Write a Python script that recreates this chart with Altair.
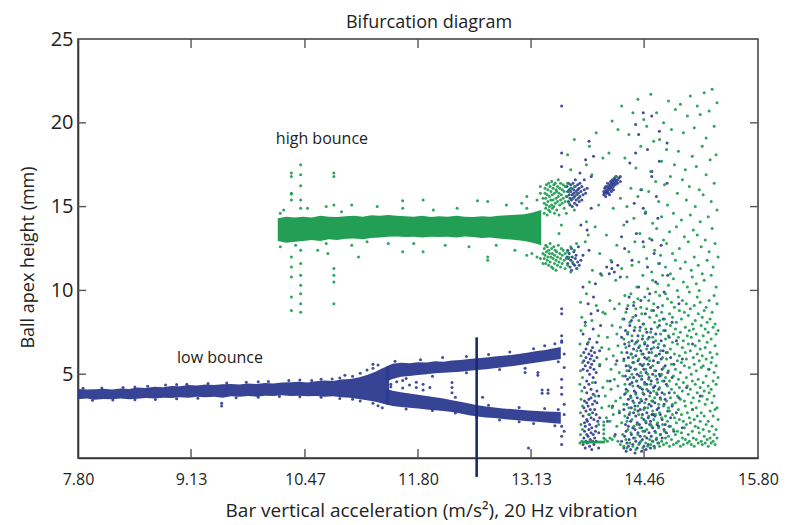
import altair as alt
import pandas as pd

BLUE = "#2c3a8f"
GREEN = "#179a4c"
LINE = "#1b2878"
FONT = "Open Sans"

# ---------------- dense bands (lower / upper edge) ----------------
low_x = [7.80, 7.90, 8.00, 8.10, 8.20, 8.30, 8.40, 8.50, 8.60, 8.70, 8.80, 8.90, 9.00, 9.10, 9.20,
         9.30, 9.40, 9.50, 9.60, 9.70, 9.80, 9.90, 10.00, 10.10, 10.20, 10.30, 10.40, 10.50, 10.60,
         10.70, 10.80, 10.90, 11.00, 11.10, 11.20, 11.30, 11.38, 11.46]
low_lo = [3.50, 3.55, 3.48, 3.52, 3.50, 3.55, 3.50, 3.53, 3.58, 3.55, 3.60, 3.58, 3.62, 3.60, 3.65,
          3.62, 3.66, 3.60, 3.68, 3.65, 3.70, 3.66, 3.72, 3.70, 3.74, 3.70, 3.72, 3.68, 3.70,
          3.66, 3.68, 3.62, 3.60, 3.52, 3.45, 3.35, 3.25, 3.15]
low_hi = [4.12, 4.08, 4.10, 4.13, 4.08, 4.15, 4.12, 4.20, 4.18, 4.25, 4.22, 4.30, 4.28, 4.35, 4.32,
          4.38, 4.35, 4.40, 4.42, 4.38, 4.45, 4.42, 4.48, 4.45, 4.50, 4.52, 4.55, 4.50, 4.58,
          4.62, 4.60, 4.68, 4.72, 4.80, 4.95, 5.15, 5.35, 5.50]

up_x = [11.42, 11.50, 11.60, 11.70, 11.80, 11.90, 12.00, 12.10, 12.20, 12.30, 12.40, 12.50, 12.60,
        12.70, 12.80, 12.90, 13.00, 13.10, 13.20, 13.30, 13.40, 13.48]
up_lo = [4.55, 4.72, 4.85, 4.90, 4.95, 5.00, 5.05, 5.08, 5.12, 5.15, 5.20, 5.25, 5.30,
         5.35, 5.42, 5.48, 5.55, 5.62, 5.70, 5.78, 5.85, 5.90]
up_hi = [5.45, 5.62, 5.68, 5.65, 5.72, 5.70, 5.78, 5.75, 5.82, 5.85, 5.90, 5.95, 6.00,
         6.05, 6.10, 6.15, 6.22, 6.30, 6.38, 6.45, 6.55, 6.62]

dn_x = up_x
dn_lo = [3.20, 3.10, 3.05, 3.00, 2.95, 2.90, 2.85, 2.80, 2.75, 2.65, 2.55, 2.48, 2.42,
         2.38, 2.32, 2.28, 2.24, 2.20, 2.16, 2.12, 2.08, 2.05]
dn_hi = [4.15, 4.02, 3.92, 3.85, 3.78, 3.70, 3.62, 3.55, 3.45, 3.35, 3.25, 3.15, 3.08,
         3.02, 2.96, 2.92, 2.88, 2.84, 2.80, 2.78, 2.76, 2.75]

hi_x = [10.15, 10.25, 10.35, 10.45, 10.55, 10.65, 10.75, 10.85, 10.95, 11.05, 11.15, 11.25, 11.35,
        11.45, 11.55, 11.65, 11.75, 11.85, 11.95, 12.05, 12.15, 12.25, 12.35, 12.45, 12.55, 12.65,
        12.75, 12.85, 12.95, 13.05, 13.15, 13.25]
hi_lo = [12.95, 12.85, 12.90, 12.95, 13.00, 12.95, 13.05, 13.00, 13.08, 13.10, 13.05, 13.12, 13.15,
         13.20, 13.22, 13.18, 13.20, 13.15, 13.20, 13.18, 13.20, 13.15, 13.22, 13.18, 13.12, 13.15,
         13.10, 13.05, 13.00, 12.95, 12.85, 12.70]
hi_hi = [14.30, 14.40, 14.35, 14.40, 14.35, 14.45, 14.40, 14.38, 14.42, 14.45, 14.40, 14.48, 14.45,
         14.50, 14.46, 14.42, 14.40, 14.45, 14.38, 14.42, 14.40, 14.45, 14.40, 14.38, 14.42, 14.40,
         14.45, 14.48, 14.52, 14.55, 14.65, 14.80]

# ---------------- scattered points: "x: y y y ..." ----------------
BLUE_ROWS = [
    # ragged edges of the low-bounce band
    "7.86: 4.16", "7.97: 3.44", "8.08: 4.18", "8.21: 3.46", "8.33: 4.21", "8.47: 3.47 4.24",
    "8.62: 4.28", "8.71: 3.49", "8.83: 4.35", "8.96: 3.53 4.38", "9.08: 4.40", "9.21: 3.57",
    "9.33: 4.45", "9.49: 3.27 3.10", "9.55: 4.47", "9.66: 3.60", "9.78: 4.52", "9.92: 4.55 3.62",
    "10.04: 4.56", "10.17: 3.67", "10.28: 4.62", "10.41: 4.66 3.65", "10.55: 4.63",
    "10.66: 3.62 4.70", "10.79: 4.72", "10.88: 3.55 4.78", "10.94: 4.94", "11.03: 4.88 3.50",
    "11.12: 5.05 3.40", "11.20: 5.25", "11.27: 5.36 3.27 5.60", "11.33: 3.12 5.55", "11.38: 3.00",
    # inside the opening between the two branches
    "11.48: 4.40 4.25", "11.55: 4.55", "11.62: 4.18 4.62", "11.70: 4.35", "11.78: 4.52 4.20",
    "11.86: 4.40 4.05", "11.94: 4.20", "12.20: 4.50 4.20 3.90",
    # ragged edges of the two branches
    "11.53: 5.78", "11.66: 4.74 2.93", "11.83: 5.86", "11.97: 4.88 2.84", "12.09: 6.00",
    "12.24: 3.62 2.68", "12.37: 6.06 5.08", "12.49: 2.42", "12.56: 3.63", "12.63: 6.18 3.14",
    "12.76: 5.28 2.26", "12.88: 6.32", "12.99: 3.02 2.17", "13.06: 5.36 5.10", "13.16: 6.52 2.06",
    "13.21: 5.10 4.94", "13.26: 4.05 3.87", "13.29: 6.70 2.96", "13.33: 4.05 3.87",
    "13.41: 6.82 1.92", "13.45: 5.74 2.90", "13.10: 0.60",
    # right end of the branches
    "13.49: 21.0 18.2 17.4 8.9 8.6 7.3 7.0 6.9 4.7 4.2 3.8 1.9 1.3 0.8",
    "13.52: 6.2 5.4 3.2 2.6 1.6",
    # cluster near 15-16.5 and 11-12.5
    "13.552: 15.6 16.2 12.0", "13.561: 15.9 11.6 12.4", "13.570: 15.3 16.4 11.9",
    "13.579: 15.7 16.0 12.2", "13.588: 15.1 15.5 11.4", "13.597: 15.9 16.3 11.8",
    "13.606: 15.4 16.1 12.5 11.2", "13.615: 15.0 15.7 12.0", "13.624: 15.5 16.4 11.6",
    "13.633: 15.8 16.0 12.3", "13.642: 15.2 15.6 11.5", "13.651: 16.2 16.6 11.9",
    "13.660: 15.4 15.9 12.1", "13.669: 15.1 15.7 11.3", "13.678: 16.0 16.3 11.7",
    "13.687: 15.5 15.8 12.6", "13.696: 15.3 16.1 11.5", "13.705: 15.6 16.4 17.0",
    "13.716: 15.9 11.8 13.9", "13.728: 15.4 16.2", "13.741: 15.7 12.1 10.2",
    "13.756: 16.0 16.6", "13.772: 15.8 17.8", "13.790: 16.1 13.6", "13.812: 18.9 12.4",
    "13.838: 16.8 14.9", "13.865: 18.0 9.6",
    # dense column 13.74 - 13.95
    "13.742: 0.8 2.5 5.3 7.4", "13.751: 1.2 3.0 5.8 6.3", "13.759: 1.6 2.1 3.4 4.2",
    "13.768: 0.6 1.9 5.5 8.1", "13.776: 1.0 2.8 6.0 6.5", "13.785: 1.4 2.3 3.3 3.9 4.6",
    "13.793: 0.9 2.2 5.2 6.8", "13.802: 1.3 3.1 5.7 9.2", "13.810: 1.7 2.6 3.5 4.4 6.2",
    "13.819: 0.7 2.0 5.0 7.1", "13.827: 1.1 2.9 5.4 5.9", "13.836: 1.5 2.4 3.6 4.1 6.4 8.6",
    "13.844: 0.5 1.8 5.6 6.1", "13.853: 1.0 2.7 3.2 6.6", "13.861: 1.4 3.8 4.8 7.7",
    "13.870: 0.8 2.3 5.3 5.8", "13.878: 1.2 2.9 3.4 6.3", "13.887: 1.6 4.5 10.4",
    "13.896: 1.0 1.9 2.6 5.1", "13.905: 3.3 4.0 6.0 6.9", "13.915: 8.8 2.2",
    "13.926: 0.6 1.5 3.7", "13.937: 2.4 5.5 6.4", "13.948: 7.9 11.0",
    # cluster near 16 at 14.0 - 14.2
    "13.985: 15.7 15.9", "13.996: 15.8 16.1", "14.008: 15.9 15.6 16.2", "14.019: 16.0 15.8",
    "14.030: 15.9 16.2 16.4", "14.042: 16.1 15.8", "14.053: 16.0 16.3 15.7", "14.064: 16.2 16.5",
    "14.076: 16.1 16.4 15.9", "14.087: 16.3 16.6", "14.099: 16.2 16.5 16.0", "14.110: 16.4 16.7",
    "14.122: 16.3 16.6", "14.134: 16.5 16.8", "14.148: 16.4 16.6", "14.165: 16.7",
    "14.180: 16.8 16.5",
    "14.02: 11.4", "14.05: 11.0", "14.08: 11.3 11.7", "14.11: 11.1", "14.15: 11.5", "14.18: 10.8",
    "14.03: 2.2", "14.06: 4.6", "14.09: 3.1", "14.12: 1.4", "14.14: 5.8", "14.17: 2.7",
    "14.195: 7.2 1.0 13.2",
    # dense mixed region 14.22 - 14.72
    "14.222: 0.6 2.9 5.9 8.3", "14.231: 1.3 3.8 6.8 12.5", "14.241: 2.0 4.9 7.6",
    "14.249: 0.4 1.6 4.1 5.5", "14.258: 0.9 3.2 6.3 8.9 14.1", "14.266: 2.4 4.7 7.4",
    "14.275: 0.7 1.9 3.5 6.0", "14.284: 1.1 2.6 5.2 6.7 9.6", "14.292: 4.4 7.9 17.6",
    "14.301: 0.5 2.2 3.7 5.4", "14.310: 1.4 3.0 6.2 8.2", "14.318: 4.5 7.0 11.8",
    "14.327: 0.8 1.8 3.4 5.7", "14.336: 1.2 2.7 4.8 6.5 9.1", "14.344: 4.0 7.6 15.2",
    "14.353: 0.3 1.7 3.1 5.3", "14.362: 1.0 2.5 3.9 6.1 8.5", "14.370: 4.6 6.9 13.4",
    "14.379: 0.6 2.1 3.6 5.0", "14.388: 1.5 2.8 4.3 5.8 7.3", "14.396: 6.6 10.2 19.3",
    "14.405: 0.9 2.0 3.3 4.9", "14.414: 1.3 2.9 4.2 5.6 7.8", "14.422: 6.4 9.4 16.0",
    "14.431: 0.4 1.8 3.4 4.7", "14.440: 1.1 2.6 4.1 5.5 7.1", "14.448: 6.2 8.0 12.9",
    "14.457: 0.7 2.3 3.8 5.3", "14.466: 1.6 3.0 4.5 6.0 6.8", "14.474: 8.6 14.6",
    "14.483: 0.5 2.1 3.5 5.1", "14.492: 1.2 2.7 4.4 5.9 7.5", "14.500: 6.7 11.4 18.4",
    "14.509: 0.8 2.4 4.0 5.6", "14.518: 1.5 3.2 4.8 6.3 7.2", "14.526: 9.8 2.0",
    "14.535: 0.6 2.2 3.9 5.4", "14.544: 1.3 3.1 4.6 6.5 7.7", "14.552: 13.0 17.1 2.6",
    "14.561: 1.0 1.8 3.4 5.0", "14.570: 2.6 4.2 5.8 6.9 8.8", "14.578: 12.2 0.7",
    "14.587: 1.6 2.5 3.3 4.3", "14.596: 5.2 6.1 7.4 10.5", "14.604: 15.6 1.1",
    "14.613: 2.0 2.9 3.8 4.7", "14.622: 5.7 6.6 9.0 14.3", "14.631: 0.9 1.9 3.0 4.1",
    "14.640: 5.0 6.2 7.9 11.6", "14.650: 1.4 2.6 3.6 4.9", "14.661: 5.9 7.0 12.7",
    "14.672: 1.2 2.3 3.9 5.3", "14.684: 6.4 8.3", "14.695: 1.7 3.2 4.6 6.7 9.9",
    "14.708: 2.0 3.5 5.5 7.6", "14.722: 1.5 4.4 6.3", "14.738: 2.8 5.1 10.9",
    "14.755: 1.9 3.9 7.2", "14.772: 2.4 6.0", "14.79: 3.1 4.8 8.1", "14.81: 1.6 5.6",
    "14.84: 2.7 7.0", "14.87: 3.6 9.2", "14.91: 1.8 5.9", "14.96: 4.2", "15.03: 2.9 6.8",
    "15.12: 3.7", "15.22: 5.3",
    "14.36: 19.9 18.2", "14.55: 20.4 16.8", "14.64: 19.5 17.7", "14.73: 18.8 16.4",
    "14.45: 20.6 14.9",
]

GREEN_ROWS = [
    # ragged edges of the high-bounce band
    "10.18: 14.6 12.6", "10.22: 14.8", "10.36: 12.7", "10.50: 14.9", "10.62: 12.4",
    "10.72: 15.0 12.8", "10.90: 14.7", "11.02: 15.1 12.7", "11.20: 12.9", "11.32: 15.0",
    "11.45: 12.8", "11.62: 15.35 12.3 14.9", "11.75: 12.8", "11.86: 15.4 12.3", "11.98: 14.8",
    "12.12: 12.7", "12.26: 14.9", "12.40: 12.6", "12.50: 15.35", "12.62: 15.3 12.0 11.8",
    "12.72: 12.7", "12.84: 15.1", "12.94: 12.4", "13.02: 15.2", "13.08: 15.6 14.9 12.1",
    "13.14: 12.2", "13.20: 15.4 12.0", "13.24: 15.8 16.2 11.9", "13.27: 15.5 12.2 11.6",
    # isolated vertical streaks
    "10.31: 17.0 16.8 15.8 15.75 15.4 12.0 11.4 10.8 9.6 8.8",
    "10.42: 17.5 16.9 16.25 15.4 14.9 12.4 11.6 10.9 10.3 9.8 9.2 8.7",
    "10.81: 17.0 16.8 15.1 11.3 10.9 10.5 9.2", "10.74: 12.2", "11.10: 12.0",
    # split of the band at its right end
    "13.285: 15.2 14.6 12.5 11.9", "13.294: 15.8 16.1 12.1", "13.302: 14.9 15.5 12.7 11.6",
    "13.311: 16.3 15.1 12.3", "13.320: 14.5 15.7 11.8 12.6", "13.328: 16.0 15.3 12.0",
    "13.337: 14.8 16.4 11.5 12.4", "13.346: 15.6 15.0 12.2", "13.354: 16.2 14.7 11.7 12.8",
    "13.363: 15.4 15.9 12.0", "13.372: 16.5 15.1 11.4 12.5", "13.380: 14.9 15.7 12.2",
    "13.389: 16.1 15.4 11.9 11.3", "13.398: 15.0 16.3 12.6", "13.406: 15.8 14.6 12.1 11.6",
    "13.415: 16.4 15.2 12.4", "13.424: 15.5 16.0 11.8 11.2", "13.432: 14.8 15.9 12.3",
    "13.441: 16.2 15.3 12.0 11.5", "13.450: 15.6 16.6 12.7", "13.459: 14.5 15.8 11.7 13.4",
    "13.468: 16.1 15.1 12.2", "13.477: 15.4 16.4 11.9 11.4", "13.487: 15.7 13.9 12.5",
    "13.497: 16.0 15.2 11.6 12.1", "13.508: 15.5 16.3 12.4", "13.519: 14.9 15.9 11.8",
    "13.531: 16.2 15.3 12.2 11.3", "13.545: 15.6 14.6 11.9", "13.560: 16.4 12.3 11.5 18.1",
    "13.578: 15.9 15.2 12.0", "13.597: 16.1 12.6 11.1 17.2", "13.618: 15.5 11.7",
    "13.640: 16.2 14.8 12.4 19.0", "13.665: 15.7 12.8 11.3",
    # sparse column and the low "L"
    "13.705: 0.9 4.4 6.8", "13.712: 1.4 2.7 5.2 9.3", "13.718: 2.0 3.5 6.1 7.6",
    "13.727: 1.0 4.0 8.4", "13.735: 1.7 3.1 4.8 5.7",
    "13.745: 0.95", "13.765: 0.95", "13.785: 0.95", "13.805: 0.95", "13.825: 0.95",
    "13.845: 0.95", "13.865: 0.95", "13.885: 0.95", "13.905: 0.95", "13.925: 0.95",
    "13.945: 0.95", "13.965: 0.95", "13.985: 0.95 1.2 1.45 1.7 1.95 2.15",
    "13.768: 7.9 12.9", "13.781: 9.8 14.1 17.5", "13.803: 6.9 13.3", "13.817: 2.6 10.5 18.6",
    "13.846: 8.2 16.9", "13.852: 4.5 11.2", "13.884: 3.7 13.8", "13.897: 9.1 19.4",
    "13.925: 2.0 7.3 15.1", "13.938: 5.6 12.2", "13.962: 3.0 6.6 10.9", "13.975: 4.2 8.7 17.9",
    # chaotic region
    "14.003: 1.1 3.7 8.6", "14.017: 2.4 5.9 13.3", "14.029: 1.0 4.6 7.2",
    "14.046: 3.1 6.5 18.2", "14.058: 1.2 2.2 9.4", "14.071: 4.1 5.3 11.8",
    "14.084: 1.1 3.0 7.9 20.1", "14.097: 2.6 6.1 14.9", "14.111: 1.3 4.7 8.9",
    "14.126: 3.4 5.6 10.6 16.8", "14.139: 1.9 7.4 12.7", "14.152: 1.0 4.3 6.7 19.6",
    "14.168: 2.8 5.1 9.2", "14.181: 0.8 3.6 7.8 15.5", "14.196: 2.1 6.3 11.3 21.0",
    "14.209: 1.4 4.9 8.3", "14.221: 0.7 3.2 5.8 7.1 13.9", "14.234: 2.5 4.4 9.7 17.9",
    "14.246: 1.1 3.9 6.6 8.7", "14.258: 0.6 2.2 5.2 10.8 15.0", "14.269: 1.7 4.0 7.5 9.1",
    "14.281: 3.0 5.5 6.9 12.3 19.3", "14.293: 0.9 2.7 4.8 8.1", "14.305: 1.5 3.6 6.2 9.8 16.1",
    "14.317: 2.3 5.0 7.3 11.5", "14.328: 0.7 4.3 6.0 8.4 20.6", "14.340: 1.9 3.3 5.7 9.3 14.3",
    "14.352: 1.2 2.9 6.8 7.8 12.9", "14.363: 0.5 3.8 5.3 8.9 17.3", "14.375: 2.0 4.6 6.4 10.2",
    "14.387: 1.4 3.1 7.0 9.5 15.6 21.4", "14.398: 0.8 2.6 5.9 8.2 11.7",
    "14.410: 1.8 4.2 6.7 7.6 13.4", "14.421: 1.0 3.5 5.1 9.0 18.6",
    "14.433: 2.4 4.9 6.2 8.6 16.0", "14.445: 0.6 1.6 3.9 7.3 10.9",
    "14.456: 2.9 5.6 8.0 12.6 20.2", "14.468: 1.3 3.3 4.4 6.9 9.6",
    "14.479: 0.9 2.2 5.3 7.7 14.7", "14.491: 1.7 4.1 6.5 8.9 11.9 19.8",
    "14.503: 0.7 3.0 5.0 7.1 10.1", "14.514: 2.5 4.7 6.0 9.4 15.9",
    "14.526: 1.1 3.7 5.8 8.4 13.1", "14.538: 0.8 2.0 4.4 7.5 17.1 21.7",
    "14.549: 1.9 3.4 6.3 8.8 11.1", "14.561: 1.0 2.8 5.5 7.2 10.6 14.0",
    "14.573: 2.3 4.0 6.6 9.2 18.9", "14.584: 0.6 3.6 5.2 8.1 12.4",
    "14.596: 1.5 2.6 4.9 7.0 9.9 16.5", "14.607: 1.2 3.9 6.1 8.5 13.7 20.6",
    "14.619: 0.9 2.1 4.5 7.8 10.4", "14.631: 1.8 3.2 5.7 6.8 11.6 15.3",
    "14.642: 0.7 2.7 4.2 8.2 9.7 19.0", "14.654: 1.4 3.5 6.4 7.4 12.1",
    "14.666: 1.0 2.4 5.0 8.7 14.4 17.7", "14.677: 2.0 4.6 6.0 9.1 10.9",
    "14.689: 0.8 3.1 5.4 7.6 13.0 20.0", "14.700: 1.6 3.8 6.7 8.3 16.3",
    "14.712: 1.2 2.5 4.8 7.1 9.8 11.4", "14.724: 0.9 3.4 5.9 8.0 12.8 18.4",
    "14.735: 2.2 4.3 6.3 9.5 15.1", "14.747: 1.3 3.0 5.2 7.3 10.3 21.3",
    "14.759: 0.7 2.8 4.6 8.6 13.5", "14.770: 1.9 3.6 6.5 7.9 11.0 16.8",
    "14.782: 1.1 4.1 5.6 9.3 19.6", "14.794: 2.6 3.2 6.9 8.4 12.2",
    "14.805: 0.8 1.7 4.9 7.4 10.7 14.6", "14.817: 2.4 3.9 6.2 9.0 17.5",
    "14.829: 1.4 3.3 5.3 7.7 11.8 20.8", "14.840: 0.9 2.1 4.4 8.1 13.8",
    "14.852: 1.6 3.7 5.8 6.8 10.0 15.8", "14.864: 1.0 2.9 4.7 7.2 9.6 18.3",
    "14.875: 2.3 4.2 6.1 8.8 12.5", "14.887: 0.7 3.5 5.1 7.5 11.3 21.1",
    "14.899: 1.5 2.6 5.7 8.3 14.2", "14.910: 1.2 4.0 6.6 9.4 16.6",
    "14.922: 0.8 2.2 4.5 7.0 10.5 19.4", "14.934: 1.8 3.4 5.5 8.7 13.2",
    "14.945: 1.1 3.1 6.3 7.8 11.7 17.2", "14.957: 2.0 4.8 5.9 9.2 15.4",
    "14.969: 0.9 2.7 4.3 7.3 10.2 20.4", "14.980: 1.4 3.8 6.8 8.5 12.9",
    "14.992: 1.0 2.4 5.4 7.6 9.9 16.2", "15.004: 2.1 4.1 6.4 8.9 14.5 21.6",
    "15.015: 0.8 3.3 5.0 7.2 11.2", "15.027: 1.6 2.9 4.6 8.0 10.8 18.0",
    "15.039: 1.2 3.6 6.0 7.7 13.6", "15.050: 0.7 2.3 5.6 9.1 12.0 19.7",
    "15.062: 1.9 4.4 6.7 8.2 15.0", "15.074: 1.1 3.0 5.2 7.4 10.4 17.4",
    "15.085: 2.5 3.9 6.2 9.6 13.3 21.0", "15.097: 0.9 1.8 4.7 8.6 11.5",
    "15.109: 1.5 3.4 5.8 7.0 10.0 16.0", "15.120: 2.2 4.2 6.5 9.3 14.1 20.5",
    "15.132: 1.0 2.7 5.4 7.9 12.6", "15.144: 0.8 3.7 6.1 8.4 11.0 18.6",
    "15.155: 1.7 4.5 5.5 7.3 15.7", "15.167: 1.3 2.5 4.0 8.8 10.6 21.8",
    "15.179: 0.9 3.2 6.6 7.7 13.0", "15.190: 2.0 4.9 5.9 9.0 16.9 19.1",
    "15.202: 1.1 3.5 6.9 8.1 11.8", "15.214: 0.7 2.2 4.3 7.5 14.4",
    "15.225: 1.6 3.9 5.3 9.4 12.3 20.7", "15.237: 1.2 2.8 6.3 8.3 17.8",
    "15.249: 0.9 4.1 5.7 7.1 10.9 15.3", "15.260: 1.9 3.3 6.0 8.7 13.7 22.0",
    "15.272: 1.0 2.5 4.6 7.8 11.4", "15.284: 1.4 3.7 5.1 9.7 16.4 19.8",
    "15.295: 0.8 2.9 6.7 8.0 12.8", "15.307: 1.7 4.4 5.5 7.4 10.2 18.1",
    "15.318: 1.2 3.0 6.2 9.2 14.8 21.2", "15.330: 2.3 4.8 7.6 12.0",
]

x_tick_values = [7.80, 9.13, 10.47, 11.80, 13.13, 14.46, 15.80]
x_inner_ticks = [9.13, 10.47, 11.80, 13.13, 14.46]
y_tick_values = [5, 10, 15, 20, 25]
y_inner_ticks = [5, 10, 15, 20]

marker_x = [12.49]
marker_y0 = [-1.13]
marker_y1 = [7.2]

label_text = ["high bounce", "low bounce"]
label_x = [10.67, 9.47]
label_y = [19.05, 5.95]


def parse(rows):
    xs, ys = [], []
    for r in rows:
        xp, yp = r.split(":")
        for v in yp.split():
            xs.append(float(xp))
            ys.append(float(v))
    return pd.DataFrame({"x": xs, "y": ys})


blue_pts = parse(BLUE_ROWS)
green_pts = parse(GREEN_ROWS)

blue_band = pd.concat([
    pd.DataFrame({"x": low_x, "lo": low_lo, "hi": low_hi, "part": "a"}),
    pd.DataFrame({"x": up_x, "lo": up_lo, "hi": up_hi, "part": "b"}),
    pd.DataFrame({"x": dn_x, "lo": dn_lo, "hi": dn_hi, "part": "c"}),
])
green_band = pd.DataFrame({"x": hi_x, "lo": hi_lo, "hi": hi_hi, "part": "d"})

W, H = 680, 419
xscale = alt.Scale(domain=[7.8, 15.8], nice=False, zero=False)
yscale = alt.Scale(domain=[0, 25], nice=False, zero=False)

xaxis = alt.Axis(values=x_tick_values, format=".2f", ticks=False, grid=False, labelFlush=False,
                 labelFontSize=16, labelPadding=13, labelColor="#222",
                 domainColor="#3a3a3a", domainWidth=1.6,
                 title="Bar vertical acceleration (m/s²), 20 Hz vibration",
                 titleFontSize=19, titleFontWeight="normal", titleColor="#222",
                 titleX=353, titleY=52, titleBaseline="middle", titleAnchor="middle")
yaxis = alt.Axis(values=y_tick_values, ticks=False, grid=False, labelFlush=False,
                 labelFontSize=20, labelPadding=5, labelColor="#222",
                 domainColor="#3a3a3a", domainWidth=1.6,
                 title="Ball apex height (mm)",
                 titleFontSize=18, titleFontWeight="normal", titleColor="#222",
                 titleX=-50, titleY=218, titleBaseline="middle", titleAnchor="middle")


def X(f):
    return alt.X(f, type="quantitative", scale=xscale, axis=xaxis)


def Y(f):
    return alt.Y(f, type="quantitative", scale=yscale, axis=yaxis)


blue_area = alt.Chart(blue_band).mark_area(color=BLUE, opacity=0.95).encode(
    x=X("x"), y=Y("lo"), y2="hi", detail="part:N")
green_area = alt.Chart(green_band).mark_area(color=GREEN, opacity=0.95).encode(
    x=X("x"), y=Y("lo"), y2="hi", detail="part:N")

blue_dots = alt.Chart(blue_pts).mark_circle(color=BLUE, size=9, opacity=0.9).encode(
    x=X("x"), y=Y("y"))
green_dots = alt.Chart(green_pts).mark_circle(color=GREEN, size=9, opacity=0.9).encode(
    x=X("x"), y=Y("y"))

marker = alt.Chart(pd.DataFrame({"x": marker_x, "y0": marker_y0, "y1": marker_y1})).mark_rule(
    color=LINE, strokeWidth=2.6, clip=False).encode(x=X("x"), y=Y("y0"), y2="y1")

labels = alt.Chart(pd.DataFrame({"t": label_text, "x": label_x, "y": label_y})).mark_text(
    font=FONT, fontSize=16, color="#222", align="center", baseline="middle").encode(
    x=X("x"), y=Y("y"), text="t:N")

xt = pd.DataFrame({"t": x_inner_ticks})
yt = pd.DataFrame({"t": y_inner_ticks})
tick_style = dict(color="#555", strokeWidth=1.4)
tb = alt.Chart(xt).mark_rule(**tick_style).encode(x=X("t"), y=alt.value(H), y2=alt.value(H - 9))
tt = alt.Chart(xt).mark_rule(**tick_style).encode(x=X("t"), y=alt.value(0), y2=alt.value(9))
tl = alt.Chart(yt).mark_rule(**tick_style).encode(y=Y("t"), x=alt.value(0), x2=alt.value(8))
tr = alt.Chart(yt).mark_rule(**tick_style).encode(y=Y("t"), x=alt.value(W), x2=alt.value(W - 8))

chart = alt.layer(
    blue_area, blue_dots, green_area, green_dots, marker, labels, tb, tt, tl, tr
).properties(
    width=W, height=H,
    title=alt.TitleParams("Bifurcation diagram", fontSize=18, fontWeight="normal",
                          font=FONT, color="#222", anchor="middle", dx=11, dy=4, offset=1),
    autosize=alt.AutoSizeParams(type="none"),
    padding={"left": 70, "top": 31, "right": 22, "bottom": 66},
).configure(font=FONT).configure_axis(
    labelFont=FONT, titleFont=FONT
).configure_view(stroke="#3a3a3a", strokeWidth=1.5)

chart.save("out.html", embed_options={"renderer": "svg", "actions": False})
